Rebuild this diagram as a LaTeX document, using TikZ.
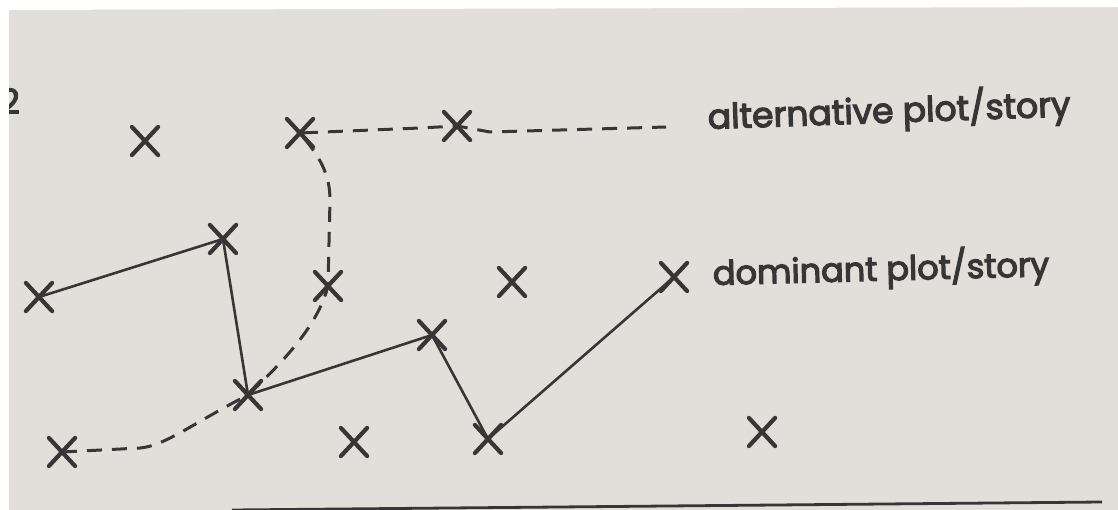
\documentclass[tikz,border=0pt]{standalone}
\usepackage{fontspec}
\setmainfont{Poppins}
\newfontfamily\labelfont{Poppins}[FakeBold=3.5]
\usetikzlibrary{shapes.misc}
\definecolor{paper}{HTML}{E2DFDA}
\definecolor{ink}{HTML}{363636}
\tikzset{
  xmark/.style={cross out, draw=ink, line width=4.2pt, minimum width=22pt, minimum height=24pt, inner sep=0pt, line cap=round},
  dominant/.style={draw=ink, line width=2.6pt, line join=round},
  alternative/.style={draw=ink, line width=3pt, dash pattern=on 15pt off 10pt, line join=round},
  label/.style={text=ink, anchor=base west, inner sep=0pt}
}
\begin{document}
\begin{tikzpicture}[x=1pt,y=-1pt]
\useasboundingbox (0,0) rectangle (1118,510);
\fill[paper] (0,0) rectangle (1118,510);
% figure number, partly cut by page edge
\node[text=ink, font=\labelfont\fontsize{34}{36}\selectfont, anchor=east, inner sep=0pt] (num) at (20,101) {2};
% page edges
\fill[white] (0,0) -- (1118,0) -- (1118,7) -- (0,10) -- cycle;
\fill[white] (0,0) rectangle (9,510);
% marks
\node[xmark] (x1) at (145,141) {};
\node[xmark] (x2) at (300,133) {};
\node[xmark] (x3) at (457,126) {};
\node[xmark] (x4) at (223,239) {};
\node[xmark] (x5) at (39,297) {};
\node[xmark] (x6) at (328,286) {};
\node[xmark] (x7) at (248,395) {};
\node[xmark] (x8) at (432,335) {};
\node[xmark] (x9) at (512,282) {};
\node[xmark] (x10) at (674,277) {};
\node[xmark] (x11) at (62,452) {};
\node[xmark] (x12) at (354,442) {};
\node[xmark] (x13) at (488,439) {};
\node[xmark] (x14) at (762,432) {};
\coordinate (altend) at (666,127);
% dominant plot
\path[dominant] (x5.center) -- (x4.center) -- (x7.center) -- (x8.center) -- (x13.center) -- (x10.center);
% alternative plot
\path[alternative] (x11.center) -- (140,448) .. controls (165,446) and (195,422) .. (x7.center)
  .. controls (285,360) and (318,325) .. (x6.center)
  -- (330,200) .. controls (330,172) and (318,155) .. (x2.center)
  -- (420,128) -- (x3.center) -- (490,132) -- (altend);
% labels
\node[label, rotate=2, font=\labelfont\fontsize{34.5}{38}\selectfont] (altlab) at (708,129) {alternative plot/story};
\node[label, rotate=1.5, font=\labelfont\fontsize{33.5}{38}\selectfont] (domlab) at (713,285) {dominant plot/story};
% rule at bottom
\coordinate (rulea) at (232,510);
\coordinate (ruleb) at (1102,502);
\draw[ink, line width=2.8pt] (rulea) -- (ruleb);
\end{tikzpicture}
\end{document}
